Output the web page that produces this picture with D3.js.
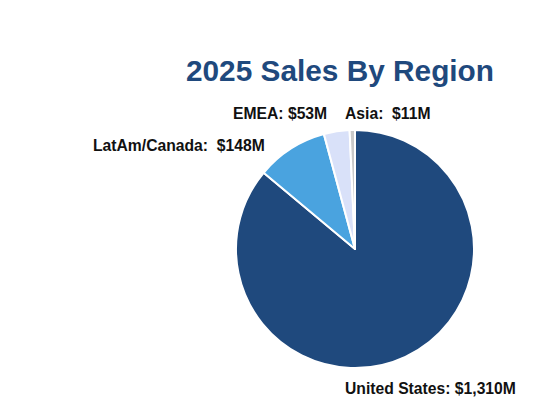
<!DOCTYPE html>
<html><head><meta charset="utf-8">
<script src="https://cdn.jsdelivr.net/npm/d3@7"></script>
<style>html,body{margin:0;padding:0;background:#fff;}svg{display:block;}</style>
</head><body>
<svg id="c" width="559" height="400"></svg>
<script>
const title = "2025 Sales By Region";
const regions = ["United States", "LatAm/Canada", "EMEA", "Asia"];
const values = [1310, 148, 53, 11];
const valueLabels = ["$1,310M", "$148M", "$53M", "$11M"];
const separators = [": ", ":  ", ": ", ":  "];
const colors = ["#1F497D", "#4AA3DF", "#D9E1F9", "#C9C9C9"];

// label placement (layout, not data): x, y baseline, anchor
const labelPos = [
  {x: 345, y: 394, anchor: "start"},
  {x: 93, y: 151, anchor: "start"},
  {x: 233, y: 119, anchor: "start"},
  {x: 345, y: 119, anchor: "start"}
];

const svg = d3.select("#c");
const cx = 355, cy = 249, r = 119;

svg.append("text")
  .attr("x", 340).attr("y", 81)
  .attr("text-anchor", "middle")
  .attr("font-family", "Liberation Sans, Arial, sans-serif")
  .attr("font-weight", "bold")
  .attr("font-size", 29.8)
  .attr("fill", "#1F497D")
  .text(title);

const pie = d3.pie().sort(null).value(d => d.v);
const data = regions.map((name, i) => ({name, v: values[i], i}));
const arcs = pie(data);
const arc = d3.arc().innerRadius(0).outerRadius(r);

const g = svg.append("g").attr("transform", `translate(${cx},${cy})`);
g.selectAll("path").data(arcs).join("path")
  .attr("d", arc)
  .attr("fill", d => colors[d.data.i])
  .attr("stroke", "#fff")
  .attr("stroke-width", 2)
  .attr("stroke-linejoin", "round");

svg.selectAll("text.lbl").data(data).join("text")
  .attr("class", "lbl")
  .attr("x", (d, i) => labelPos[i].x)
  .attr("y", (d, i) => labelPos[i].y)
  .attr("text-anchor", (d, i) => labelPos[i].anchor)
  .attr("font-family", "Liberation Sans, Arial, sans-serif")
  .attr("font-weight", "bold")
  .attr("font-size", 15.7)
  .attr("fill", "#111")
  .style("white-space", "pre")
  .text(d => d.name + separators[d.i] + valueLabels[d.i]);
</script>
</body></html>
